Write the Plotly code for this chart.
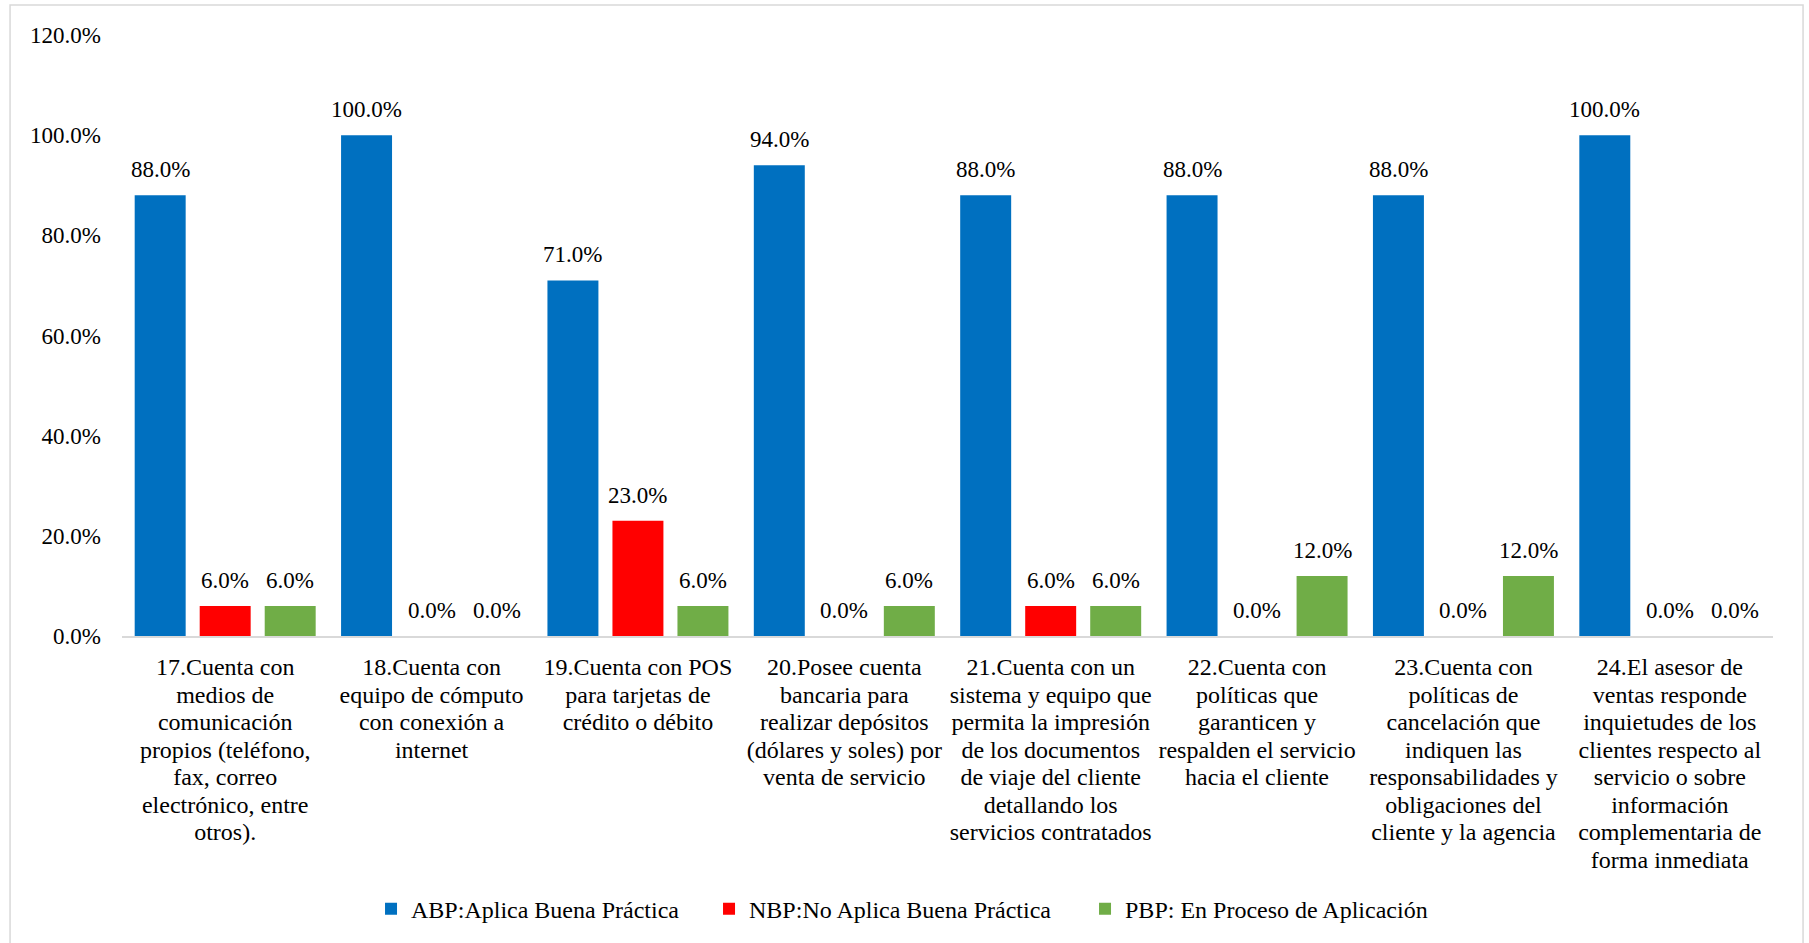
import plotly.graph_objects as go

# Category labels, one list of wrapped lines per item
categories = [
    ["17.Cuenta con", "medios de", "comunicación", "propios (teléfono,", "fax, correo",
     "electrónico, entre", "otros)."],
    ["18.Cuenta con", "equipo de cómputo", "con conexión a", "internet"],
    ["19.Cuenta con POS", "para tarjetas de", "crédito o débito"],
    ["20.Posee cuenta", "bancaria para", "realizar depósitos", "(dólares y soles) por",
     "venta de servicio"],
    ["21.Cuenta con un", "sistema y equipo que", "permita la impresión", "de los documentos",
     "de viaje del cliente", "detallando los", "servicios contratados"],
    ["22.Cuenta con", "políticas que", "garanticen y", "respalden el servicio",
     "hacia el cliente"],
    ["23.Cuenta con", "políticas de", "cancelación que", "indiquen las",
     "responsabilidades y", "obligaciones del", "cliente y la agencia"],
    ["24.El asesor de", "ventas responde", "inquietudes de los", "clientes respecto al",
     "servicio o sobre", "información", "complementaria de", "forma inmediata"],
]

abp = [88.0, 100.0, 71.0, 94.0, 88.0, 88.0, 88.0, 100.0]
nbp = [6.0, 0.0, 23.0, 0.0, 6.0, 0.0, 0.0, 0.0]
pbp = [6.0, 0.0, 6.0, 6.0, 6.0, 12.0, 12.0, 0.0]

series_names = [
    "ABP:Aplica Buena Práctica",
    "NBP:No Aplica Buena Práctica",
    "PBP: En Proceso de Aplicación",
]
series_colors = ["#0070C0", "#FF0000", "#70AD47"]
y_tick_values = [0, 20, 40, 60, 80, 100, 120]

FONT = "Liberation Serif, Times New Roman, serif"
BAR_WIDTH = 0.247   # bar width in category units
SLOT = 0.315        # distance between neighbouring bars of a group
LEGEND_ENTRY_WIDTHS = [293, 331, 302]  # px reserved for each legend label

positions = list(range(len(categories)))

fig = go.Figure()
for k, (name, values, color) in enumerate(zip(series_names, [abp, nbp, pbp], series_colors)):
    shift = (k - 1) * SLOT
    fig.add_trace(go.Bar(
        x=positions, y=values, name=name,
        marker=dict(color=color, line=dict(width=0)),
        width=BAR_WIDTH, offset=shift - BAR_WIDTH / 2,
        legendwidth=LEGEND_ENTRY_WIDTHS[k],
        hovertemplate="%{y:.1f}%<extra>" + name + "</extra>",
    ))
    # value labels above each bar
    for i, v in zip(positions, values):
        fig.add_annotation(
            x=i + shift, y=v, text=f"{v:.1f}%", showarrow=False,
            xref="x", yref="y", yanchor="bottom", yshift=11,
            font=dict(family=FONT, size=23, color="black"),
        )

# multi-line tick labels: 24px glyphs on a tighter line pitch
tick_text = [
    "<br>".join(f'<span style="font-size:24px">{ln}</span>' for ln in lines)
    for lines in categories
]

fig.update_layout(
    width=1809, height=943,
    barmode="overlay",
    paper_bgcolor="white", plot_bgcolor="white",
    margin=dict(l=122, r=36, t=35, b=307),
    font=dict(family=FONT, color="black"),
    showlegend=True,
    legend=dict(
        orientation="h", xref="container", yref="container",
        x=0.2051, xanchor="left", y=0.036, yanchor="middle",
        font=dict(family=FONT, size=24, color="black"),
        traceorder="normal",
    ),
    xaxis=dict(
        range=[-0.5, len(categories) - 0.5],
        tickmode="array", tickvals=positions, ticktext=tick_text,
        tickfont=dict(family=FONT, size=21.15, color="black"),
        showgrid=False, zeroline=False,
        showline=True, linecolor="#d9d9d9", linewidth=1.5,
        ticks="", tickangle=0, ticklabelstandoff=12,
    ),
    yaxis=dict(
        range=[0, 120],
        tickmode="array", tickvals=y_tick_values,
        ticktext=[f"{v:.1f}%" for v in y_tick_values],
        tickfont=dict(family=FONT, size=23, color="black"),
        showgrid=False, zeroline=False, showline=False,
        ticks="", ticklabelstandoff=20,
    ),
    shapes=[dict(
        type="rect", xref="paper", yref="paper", layer="below",
        x0=-0.0678, x1=1.0182, y0=-0.52, y1=1.0499,
        line=dict(color="#d9d9d9", width=1.5), fillcolor="rgba(0,0,0,0)",
    )],
)

fig.write_html("out.html")
